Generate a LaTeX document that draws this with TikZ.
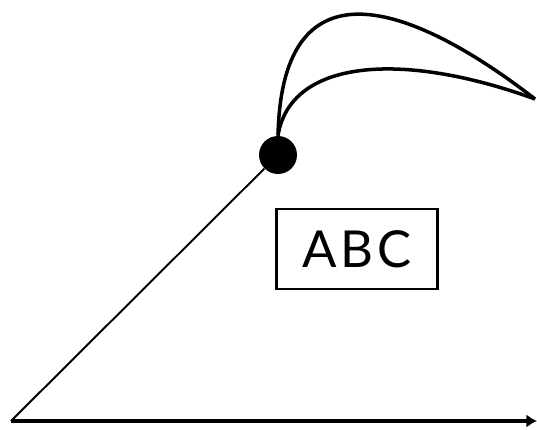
\documentclass[tikz,border=0pt]{standalone}
\usepackage{fontspec}
\setmainfont{Lato}
\usetikzlibrary{arrows.meta, positioning}

\begin{document}
\begin{tikzpicture}[
    x=0.02cm, y=-0.02cm,
    axis/.style={line width=2.2pt, -{Latex[length=6pt, width=7.5pt]}},
    ray/.style={line width=1.1pt},
    curve/.style={line width=2pt},
    dot/.style={circle, fill=black, inner sep=0pt, minimum size=0.76cm},
    label/.style={rectangle, draw, line width=1.4pt, minimum width=3.22cm, minimum height=1.6cm,
        font=\fontsize{29}{32}\selectfont\addfontfeatures{LetterSpace=8}}
]
\useasboundingbox (0,0) rectangle (537,429);

% Axes
\coordinate (origin) at (11,421);
\coordinate (xend) at (537,421);
\draw[axis] (origin) -- (xend);

% Point on the ray
\node[dot] (p) at (278,155) {};
\draw[ray] (origin) -- (p);

% Two curves from the point
\coordinate (tip) at (535,99);
\draw[curve] (p.north) .. controls (282,-50) and (420,10) .. (tip);
\draw[curve] (p.north) .. controls (290,60) and (400,50) .. (tip);

% Label box
\node[label] (abc) at (357,249) {ABC};

\end{tikzpicture}
\end{document}
